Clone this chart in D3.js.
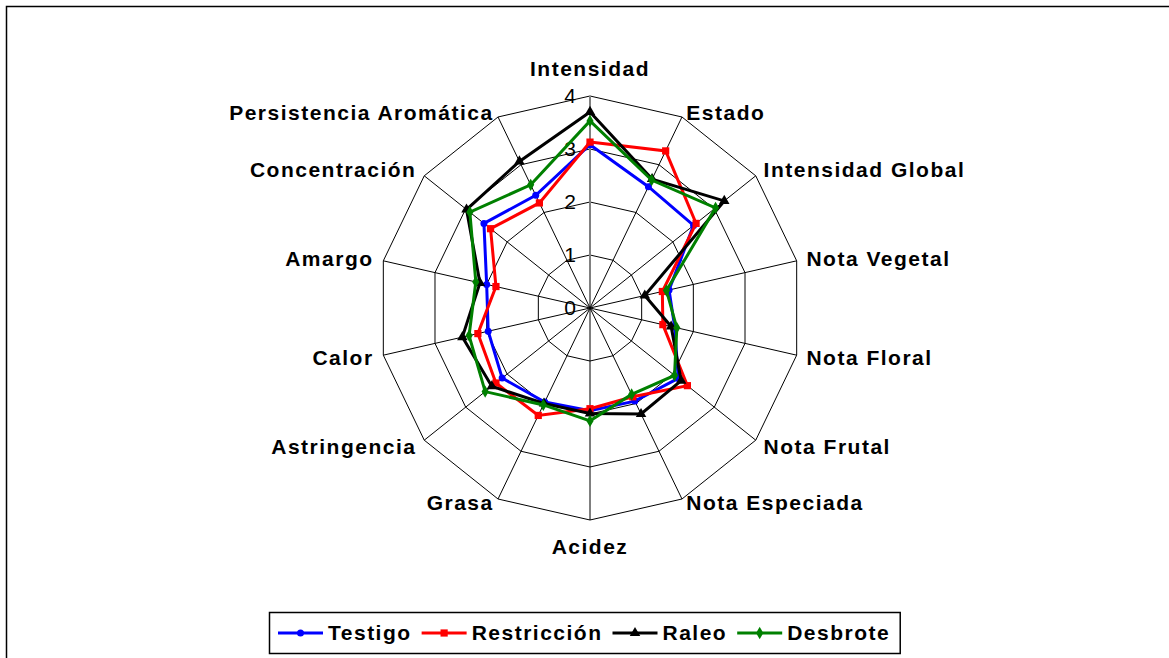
<!DOCTYPE html>
<html>
<head>
<meta charset="utf-8">
<script src="https://cdn.jsdelivr.net/npm/d3@7"></script>
<style>
  html, body { margin: 0; padding: 0; background: #fff; }
  svg { display: block; font-family: 'Liberation Sans', Arial, sans-serif; }
</style>
</head>
<body>
<svg id="chart" width="1169" height="658"></svg>
<script>
const AXES = ['Intensidad', 'Estado', 'Intensidad Global', 'Nota Vegetal', 'Nota Floral',
  'Nota Frutal', 'Nota Especiada', 'Acidez', 'Grasa', 'Astringencia', 'Calor', 'Amargo',
  'Concentración', 'Persistencia Aromática'];
const TICKS = [0, 1, 2, 3, 4];

const testigo     = [3.08, 2.54, 2.50, 1.53, 1.64, 2.13, 1.95, 1.94, 1.97, 2.12, 1.97, 2.00, 2.56, 2.36];
const restriccion = [3.13, 3.29, 2.56, 1.40, 1.41, 2.35, 1.86, 1.90, 2.25, 2.27, 2.17, 1.82, 2.40, 2.20];
const raleo       = [3.70, 2.70, 3.24, 1.06, 1.57, 2.20, 2.22, 1.99, 2.00, 2.37, 2.47, 2.13, 2.98, 3.07];
const desbrote    = [3.53, 2.68, 3.03, 1.48, 1.68, 2.04, 1.81, 2.13, 2.03, 2.53, 2.34, 2.21, 2.90, 2.58];

const SERIES = [
  { name: 'Testigo', values: testigo, color: '#0000ff', marker: 'circle' },
  { name: 'Restricción', values: restriccion, color: '#ff0000', marker: 'square' },
  { name: 'Raleo', values: raleo, color: '#000000', marker: 'triangle' },
  { name: 'Desbrote', values: desbrote, color: '#008000', marker: 'diamond' }
];

const svg = d3.select('#chart');
const cx = 590, cy = 308;
const r = d3.scaleLinear().domain([0, 4]).range([0, 212]);
const ang = d3.scalePoint().domain(d3.range(AXES.length + 1)).range([0, 2 * Math.PI]);
const pt = (i, v) => [cx + r(v) * Math.sin(ang(i)), cy - r(v) * Math.cos(ang(i))];

// outer frame
svg.append('rect').attr('x', 6.5).attr('y', 6.5).attr('width', 1180).attr('height', 670)
  .attr('fill', 'none').attr('stroke', '#000').attr('stroke-width', 1.5);

const grid = svg.append('g');
TICKS.slice(1).forEach(t => {
  grid.append('polygon')
    .attr('points', AXES.map((_, i) => pt(i, t).join(',')).join(' '))
    .attr('fill', 'none').attr('stroke', '#000').attr('stroke-width', 1);
});
AXES.forEach((_, i) => {
  const [x, y] = pt(i, 4);
  grid.append('line').attr('x1', cx).attr('y1', cy).attr('x2', x).attr('y2', y)
    .attr('stroke', i === 0 ? '#808080' : '#000')
    .attr('stroke-width', i === 0 ? 2 : 1);
});

// tick labels on the vertical axis
svg.append('g').selectAll('text').data(TICKS).join('text')
  .attr('x', cx - 14).attr('y', d => cy - r(d))
  .attr('dy', '0.35em').attr('text-anchor', 'end')
  .attr('font-size', 21).attr('fill', '#000')
  .text(d => d);

// axis labels
svg.append('g').selectAll('text').data(AXES).join('text')
  .each(function (d, i) {
    const a = ang(i), s = Math.sin(a), c = Math.cos(a);
    const t = d3.select(this);
    if (Math.abs(s) < 0.1) {
      t.attr('x', cx).attr('y', cy - 239 * c).attr('text-anchor', 'middle');
    } else {
      const nudge = Math.abs(c) > 0.8 ? 5 * Math.sign(c) : 0;
      t.attr('x', cx + 222 * s).attr('y', cy - 222 * c + nudge)
        .attr('text-anchor', s > 0 ? 'start' : 'end');
    }
  })
  .attr('dy', '0.35em').attr('font-size', 21).attr('font-weight', 'bold')
  .attr('letter-spacing', 1.5)
  .text(d => d);

function marker(g, type, color, x, y) {
  if (type === 'circle') {
    g.append('circle').attr('cx', x).attr('cy', y).attr('r', 3.5).attr('fill', color);
  } else {
    const sym = { square: d3.symbolSquare, triangle: d3.symbolTriangle, diamond: d3.symbolDiamond }[type];
    const size = { square: 52, triangle: 48, diamond: 44 }[type];
    g.append('path').attr('d', d3.symbol(sym, size)())
      .attr('transform', `translate(${x},${y})`).attr('fill', color);
  }
}

const line = d3.line().curve(d3.curveLinearClosed);
SERIES.forEach(s => {
  const g = svg.append('g');
  const pts = s.values.map((v, i) => pt(i, v));
  g.append('path').attr('d', line(pts)).attr('fill', 'none')
    .attr('stroke', s.color).attr('stroke-width', 3).attr('stroke-linejoin', 'miter');
  pts.forEach(p => marker(g, s.marker, s.color, p[0], p[1]));
});

// legend
const leg = svg.append('g');
const box = leg.append('rect').attr('fill', '#fff').attr('stroke', '#000').attr('stroke-width', 1.5);
let lx = 278;
const ly = 633;
SERIES.forEach(s => {
  const g = leg.append('g');
  g.append('line').attr('x1', lx).attr('x2', lx + 45).attr('y1', ly).attr('y2', ly)
    .attr('stroke', s.color).attr('stroke-width', 3);
  marker(g, s.marker, s.color, lx + 22.5, ly);
  const t = g.append('text').attr('x', lx + 50).attr('y', ly).attr('dy', '0.35em')
    .attr('font-size', 21).attr('font-weight', 'bold').attr('letter-spacing', 1.5)
    .text(s.name);
  lx += 50 + t.node().getComputedTextLength() + 10;
});
box.attr('x', 269.5).attr('y', 612.5).attr('width', lx - 269.5).attr('height', 41);
</script>
</body>
</html>
